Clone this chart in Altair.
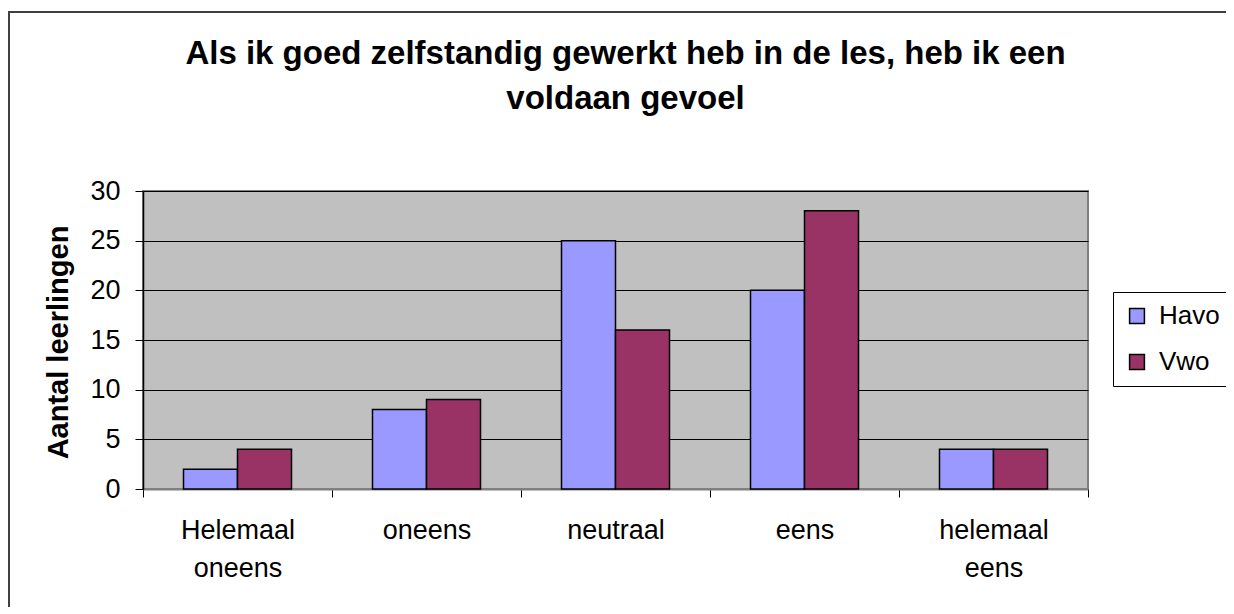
import altair as alt
import pandas as pd

categories = ["Helemaal oneens", "oneens", "neutraal", "eens", "helemaal eens"]
series = ["Havo", "Vwo"]
havo = [2, 8, 25, 20, 4]
vwo = [4, 9, 16, 28, 4]
colors = ["#9999FF", "#993366"]
y_ticks = [0, 5, 10, 15, 20, 25, 30]
title_lines = ["Als ik goed zelfstandig gewerkt heb in de les, heb ik een", "voldaan gevoel"]
y_title = "Aantal leerlingen"

rows = []
for c, h, v in zip(categories, havo, vwo):
    rows.append({"categorie": c, "groep": "Havo", "aantal": h})
    rows.append({"categorie": c, "groep": "Vwo", "aantal": v})
df = pd.DataFrame(rows)

FONT = "Liberation Sans"

bars = alt.Chart(df).mark_bar(stroke="black", strokeWidth=1.5).encode(
    x=alt.X(
        "categorie:N",
        sort=categories,
        scale=alt.Scale(paddingInner=0, paddingOuter=0),
        axis=alt.Axis(
            title=None, labelAngle=0, labelFontSize=27, labelColor="black", labelFont=FONT,
            labelExpr="split(datum.label, ' ')", labelLineHeight=38, labelBaseline="top",
            tickBand="extent", tickSize=8, tickColor="black", tickWidth=1,
            domainColor="#808080", domainWidth=2, labelPadding=20, grid=False,
        ),
    ),
    xOffset=alt.XOffset("groep:N", sort=series, scale=alt.Scale(paddingInner=0, paddingOuter=0.75)),
    y=alt.Y(
        "aantal:Q",
        scale=alt.Scale(domain=[0, 30], nice=False),
        axis=alt.Axis(
            values=y_ticks, title=y_title, titleFont=FONT, titleFontSize=29, titleFontWeight="bold",
            titleColor="black", titleAngle=270, titleX=-85, titleY=151, titleAlign="center",
            titleBaseline="middle",
            labelFontSize=27, labelFont=FONT, labelColor="black", labelPadding=15,
            tickSize=8, tickColor="black", domainColor="black", domainWidth=1.5,
            grid=True, gridColor="black", gridWidth=1,
        ),
    ),
    color=alt.Color(
        "groep:N",
        scale=alt.Scale(domain=series, range=colors),
        legend=alt.Legend(
            title=None, orient="none", legendX=970, legendY=101, labelFontSize=26, labelFont=FONT,
            labelColor="black", symbolType="square", symbolSize=220, symbolStrokeColor="black",
            symbolStrokeWidth=1.5, symbolOpacity=1, strokeColor="black", fillColor="white",
            padding=11, rowPadding=20, labelOffset=9,
        ),
    ),
)

frame = alt.Chart(pd.DataFrame({"k": [0]})).mark_rect(
    fill="transparent", stroke="#404040", strokeWidth=2
).encode(
    x=alt.value(-134), x2=alt.value(3000), y=alt.value(-179), y2=alt.value(3000)
)

chart = alt.layer(frame, bars).properties(
    width=945,
    height=298,
    autosize=alt.AutoSizeParams(type="none"),
    padding={"left": 135, "top": 183, "right": 138, "bottom": 118},
    title=alt.TitleParams(
        title_lines, fontSize=33, font=FONT, fontWeight="bold", anchor="middle", frame="group",
        offset=-105, dx=10, lineHeight=45, color="black",
    ),
).configure_view(fill="#C0C0C0", stroke="#808080", strokeWidth=2)

chart.save("out.html", embed_options={"renderer": "svg", "actions": False})
